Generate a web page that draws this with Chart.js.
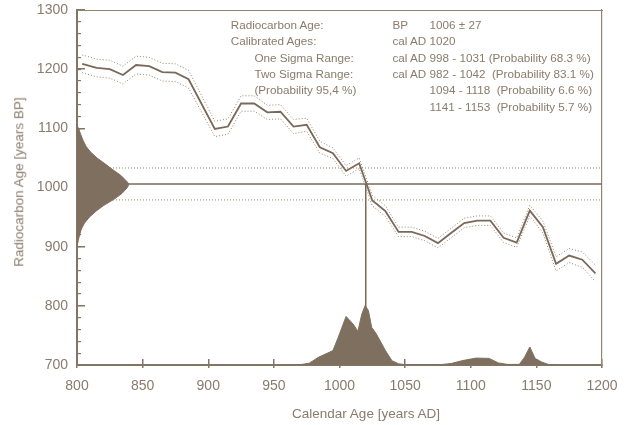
<!DOCTYPE html>
<html><head><meta charset="utf-8">
<script src="https://cdn.jsdelivr.net/npm/chart.js@4/dist/chart.umd.min.js"></script>
<style>
html,body{margin:0;padding:0;background:#fff;}
#wrap{position:relative;width:624px;height:425px;overflow:hidden;font-family:"Liberation Sans",Arial,sans-serif;color:#8a7b6c;}
canvas{position:absolute;left:0;top:0;}
.t{position:absolute;white-space:pre;font-size:11.7px;line-height:16.3px;}
.ax{position:absolute;white-space:pre;font-size:13.5px;line-height:13.5px;}
</style></head><body>
<div id="wrap"><canvas id="c" width="624" height="425"></canvas></div>
<script>
// ---- calibration curve (cal AD, BP, 1-sigma) ----
const calYears = [804, 815, 825, 835, 845, 855, 865, 875, 885, 905, 915, 925, 935, 945, 955, 965, 975, 985, 995, 1005, 1015, 1025, 1035, 1045, 1055, 1065, 1075, 1085, 1095, 1105, 1115, 1125, 1135, 1145, 1155, 1165, 1175, 1185, 1195];
const calBP    = [1209, 1202, 1200, 1190, 1207, 1205, 1195, 1194, 1183, 1099, 1103, 1142, 1142, 1127, 1128, 1103, 1106, 1068, 1058, 1028, 1041, 978, 960, 925, 925, 918, 906, 923, 940, 944, 944, 915, 907, 961, 933, 871, 885, 878, 855];
const calSigma = [15, 15, 15, 15, 15, 15, 15, 15, 15, 13, 13, 13, 13, 12, 12, 12, 11, 10, 9, 9, 9, 9, 9, 8, 8, 8, 8, 8, 8, 8, 8, 8, 8, 9, 10, 12, 12, 13, 14];

// ---- measurement ----
const measuredBP = 1006;
const measuredErr = 27;
const calMedian = 1020;

// ---- radiocarbon age probability (left, relative density) ----
const gaussBP      = [900, 910, 920, 930, 940, 950, 960, 970, 980, 990, 1000, 1006, 1010, 1020, 1030, 1040, 1050, 1060, 1070, 1080, 1090, 1100, 1104];
const gaussDensity = [0, 2.3, 5, 8.5, 14.5, 24, 36.5, 52, 71, 86.5, 97, 100, 96, 85, 69, 54, 38.5, 26, 17, 11.5, 7, 3, 0];

// ---- calibrated age probability (bottom, relative density) ----
const probYears   = [960, 970, 977, 984, 989, 995, 999, 1005, 1010.5, 1014, 1017, 1019.5, 1022, 1024.5, 1028, 1035, 1040, 1045, 1050, 1065, 1078, 1085, 1094, 1104, 1114, 1121, 1128, 1137, 1141, 1145, 1149, 1154, 1159, 1166];
const probDensity = [0, 0.5, 3, 13, 18, 24, 46, 81, 68, 56, 85, 99, 91, 63, 52, 24, 7, 2, 0.5, 0.3, 0.8, 2.5, 7.5, 11.5, 11, 3.5, 1, 1, 13, 30, 11, 5, 1, 0];

// ---- axes ----
const xMin = 800, xMax = 1200, xStep = 50;
const yMin = 700, yMax = 1300, yStep = 100, yMinorStep = 20;

// ---- info text ----
const infoLabels = ["Radiocarbon Age:", "Calibrated Ages:", "One Sigma Range:", "Two Sigma Range:", "(Probability 95,4 %)", ""];
const infoCol2   = ["BP", "cal AD 1020", "cal AD 998 - 1031 (Probability 68.3 %)", "cal AD 982 - 1042  (Probability 83.1 %)", "", ""];
const infoCol3   = ["1006 \u00b1 27", "", "", "", "1094 - 1118  (Probability 6.6 %)", "1141 - 1153  (Probability 5.7 %)"];
const infoIndent = [false, false, true, true, true, false];
const xTitle = "Calendar Age [years AD]";
const yTitle = "Radiocarbon Age [years BP]";

const TXT = '#8a7b6c', AX = '#857565', FILL = '#7f6f5f', LINE = '#7a6858', DOT = '#94846f';
Chart.defaults.font.family = '"Liberation Sans", Arial, sans-serif';
Chart.defaults.color = TXT;

const pts = (xs, ys) => xs.map((x, i) => ({x: x, y: ys[i]}));
const base = {pointRadius: 0, pointHoverRadius: 0, tension: 0, fill: false};
const noPad = s => { s.paddingTop = 0; s.paddingBottom = 0; s.paddingLeft = 0; s.paddingRight = 0; };
const plain = v => String(v);

const datasets = [
  Object.assign({}, base, {label: 'gauss', data: gaussBP.map((b, i) => ({x: gaussDensity[i], y: b})),
    indexAxis: 'y', xAxisID: 'xg', yAxisID: 'y', fill: 'origin', backgroundColor: FILL, borderColor: FILL, borderWidth: 1, order: 0}),
  Object.assign({}, base, {label: 'prob', data: pts(probYears, probDensity), xAxisID: 'x', yAxisID: 'yp',
    fill: 'origin', backgroundColor: FILL, borderColor: FILL, borderWidth: 1, order: 1}),
  Object.assign({}, base, {label: 'median', data: [{x: calMedian, y: yMin}, {x: calMedian, y: measuredBP}], xAxisID: 'x', yAxisID: 'y',
    borderColor: LINE, borderWidth: 1.5, order: 2}),
  Object.assign({}, base, {label: 'meas', data: [{x: xMin, y: measuredBP}, {x: xMax, y: measuredBP}], xAxisID: 'x', yAxisID: 'y',
    borderColor: LINE, borderWidth: 1.5, order: 3}),
  Object.assign({}, base, {label: 'measHi', data: [{x: xMin, y: measuredBP + measuredErr}, {x: xMax, y: measuredBP + measuredErr}], xAxisID: 'x', yAxisID: 'y',
    borderColor: DOT, borderWidth: 1, borderDash: [1, 2], order: 4}),
  Object.assign({}, base, {label: 'measLo', data: [{x: xMin, y: measuredBP - measuredErr}, {x: xMax, y: measuredBP - measuredErr}], xAxisID: 'x', yAxisID: 'y',
    borderColor: DOT, borderWidth: 1, borderDash: [1, 2], order: 5}),
  Object.assign({}, base, {label: 'curve', data: pts(calYears, calBP), xAxisID: 'x', yAxisID: 'y',
    borderColor: LINE, borderWidth: 1.8, order: 6}),
  Object.assign({}, base, {label: 'curveHi', data: pts(calYears, calBP.map((v, i) => v + calSigma[i])), xAxisID: 'x', yAxisID: 'y',
    borderColor: DOT, borderWidth: 1, borderDash: [1, 2], order: 7}),
  Object.assign({}, base, {label: 'curveLo', data: pts(calYears, calBP.map((v, i) => v - calSigma[i])), xAxisID: 'x', yAxisID: 'y',
    borderColor: DOT, borderWidth: 1, borderDash: [1, 2], order: 8})
];

new Chart(document.getElementById('c'), {
  type: 'line',
  data: {datasets: datasets},
  options: {
    responsive: false, animation: false, devicePixelRatio: 1,
    layout: {padding: {top: 10, right: 22, left: 0, bottom: 0}},
    plugins: {legend: {display: false}, tooltip: {enabled: false}, title: {display: false}},
    scales: {
      x: {type: 'linear', position: 'bottom', weight: 1, min: xMin, max: xMax,
        ticks: {stepSize: xStep, color: TXT, font: {size: 14}, padding: 19, maxRotation: 0, autoSkip: false, callback: plain},
        grid: {display: true, drawOnChartArea: false, drawTicks: true, tickLength: -6, color: AX, lineWidth: 1.5},
        border: {display: true, color: AX, width: 2},
        afterFit: s => { s.height = 60; noPad(s); }},
      xOut: {type: 'linear', position: 'bottom', weight: 0, min: xMin, max: xMax,
        ticks: {stepSize: xStep, display: false},
        grid: {display: true, drawOnChartArea: false, drawTicks: true, tickLength: 3, color: AX, lineWidth: 1.5},
        border: {display: false},
        afterFit: s => { s.height = 0; noPad(s); }},
      xTop: {type: 'linear', position: 'top', min: xMin, max: xMax,
        ticks: {display: false}, grid: {display: false},
        border: {display: true, color: DOT, width: 1, dash: [1, 1]},
        afterFit: s => { s.height = 0; noPad(s); }},
      y: {type: 'linear', position: 'left', weight: 1, min: yMin, max: yMax,
        ticks: {stepSize: yStep, color: TXT, font: {size: 14}, padding: 17, callback: plain},
        grid: {display: true, drawOnChartArea: false, drawTicks: true, tickLength: -8, color: AX, lineWidth: 1.5},
        border: {display: true, color: AX, width: 2},
        afterFit: s => { s.width = 77; noPad(s); }},
      yMinor: {type: 'linear', position: 'left', weight: 0, min: yMin, max: yMax,
        ticks: {stepSize: yMinorStep, display: false},
        grid: {display: true, drawOnChartArea: false, drawTicks: true, tickLength: -4, color: AX, lineWidth: 1.2},
        border: {display: false},
        afterFit: s => { s.width = 0; noPad(s); }},
      yRight: {type: 'linear', position: 'right', min: yMin, max: yMax,
        ticks: {display: false}, grid: {display: false},
        border: {display: true, color: DOT, width: 1.2, dash: [1, 1]},
        afterFit: s => { s.width = 0; noPad(s); }},
      xg: {type: 'linear', display: false, min: 0, max: 1010},
      yp: {type: 'linear', display: false, min: 0, max: 592}
    }
  }
});

// ---- text overlays ----
const wrap = document.getElementById('wrap');
function addText(cls, txt, left, top, extra) {
  if (!txt) return;
  const d = document.createElement('div');
  d.className = cls; d.textContent = txt;
  d.style.left = left + 'px'; d.style.top = top + 'px';
  if (extra) Object.assign(d.style, extra);
  wrap.appendChild(d);
}
const rowTop0 = 17.1, rowH = 16.3;
infoLabels.forEach((lab, i) => {
  const top = rowTop0 + i * rowH;
  addText('t', lab, infoIndent[i] ? 254.4 : 230.7, top);
  addText('t', infoCol2[i], 392.5, top);
  addText('t', infoCol3[i], 429.5, top);
});
addText('ax', xTitle, 366, 406.5, {transform: 'translateX(-50%)'});
addText('ax', yTitle, 19, 182, {transform: 'translate(-50%,-50%) rotate(-90deg)'});
</script>
</body></html>
